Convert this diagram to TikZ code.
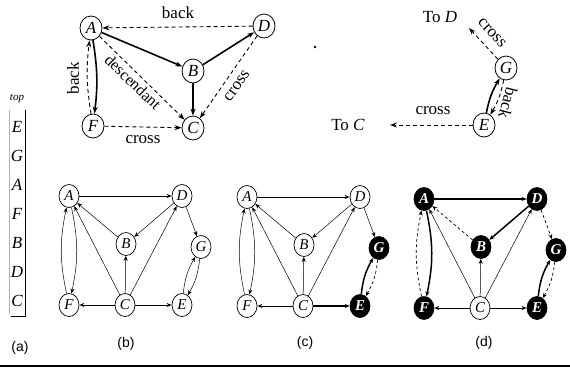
\documentclass[tikz,border=0pt]{standalone}
\usepackage{fontspec}
\setmainfont{Liberation Serif}
\setsansfont{Liberation Sans}
\usetikzlibrary{arrows.meta,shapes.geometric}
\tikzset{
 nd/.style={ellipse,draw,line width=0.8pt,inner sep=0pt,minimum width=22pt,minimum height=24pt,fill=white,font=\fontsize{17}{17}\selectfont\itshape},
 sn/.style={ellipse,draw,line width=0.7pt,inner sep=0pt,minimum width=20pt,minimum height=23pt,fill=white,font=\fontsize{15}{15}\selectfont\itshape},
 blk/.style={fill=black,text=white,font=\fontsize{15}{15}\selectfont\itshape\bfseries},
 lbl/.style={font=\fontsize{17}{17}\selectfont,inner sep=0pt},
 stk/.style={font=\fontsize{17}{17}\selectfont\itshape,inner sep=0pt},
 sub/.style={font=\fontsize{14}{14}\selectfont\sffamily,inner sep=0pt},
 arrw/.style={-{Stealth[length=7pt,width=5pt]}},
 sarrw/.style={-{Stealth[length=5pt,width=4pt]}},
 treeE/.style={arrw,line width=1.6pt},
 dshE/.style={arrw,line width=0.9pt,dash pattern=on 4pt off 3pt},
 thinE/.style={sarrw,line width=0.5pt},
 medE/.style={sarrw,line width=1pt},
 thkE/.style={sarrw,line width=1.5pt},
 sdshE/.style={sarrw,line width=0.7pt,dash pattern=on 3pt off 2.5pt},
 % graph (b)
 bnA/.style={},bnB/.style={},bnD/.style={},bnE/.style={},bnF/.style={},bnG/.style={},
 bAD/.style=medE,bDB/.style=thinE,bBA/.style=thinE,bAF/.style=thinE,bFA/.style=thinE,
 bDG/.style=thinE,bEG/.style=thinE,bGE/.style=thinE,bCE/.style=medE,bCF/.style=medE,
 % graph (c)
 cnA/.style={},cnB/.style={},cnD/.style={},cnE/.style=blk,cnF/.style={},cnG/.style=blk,
 cAD/.style=medE,cDB/.style=thinE,cBA/.style=thinE,cAF/.style=thinE,cFA/.style=thinE,
 cDG/.style=thinE,cEG/.style=thkE,cGE/.style=sdshE,cCE/.style=thkE,cCF/.style=medE,
 % graph (d)
 dnA/.style=blk,dnB/.style=blk,dnD/.style=blk,dnE/.style=blk,dnF/.style=blk,dnG/.style=blk,
 dAD/.style=thkE,dDB/.style=thkE,dBA/.style=sdshE,dAF/.style=thkE,dFA/.style=sdshE,
 dDG/.style=sdshE,dEG/.style=thkE,dGE/.style=sdshE,dCE/.style=medE,dCF/.style=medE,
}
\newcommand\bgraph[2]{%
\begin{scope}[shift={#2}]
\node[sn,#1nA] (#1A) at (0,0) {A};
\node[sn,#1nD] (#1D) at (113,0) {D};
\node[sn,#1nB] (#1B) at (57,48) {B};
\node[sn,#1nG] (#1G) at (132,51) {G};
\node[sn,#1nF] (#1F) at (0,109) {F};
\node[sn] (#1C) at (56,109) {C};
\node[sn,#1nE] (#1E) at (113,109) {E};
\draw[#1AD] (#1A) -- (#1D);
\draw[#1DB] (#1D) -- (#1B);
\draw[#1BA] (#1B) -- (#1A);
\draw[thinE] (#1C) -- (#1A);
\draw[thinE] (#1C) -- (#1B);
\draw[thinE] (#1C) -- (#1D);
\draw[#1CF] (#1C) -- (#1F);
\draw[#1CE] (#1C) -- (#1E);
\draw[#1AF] (#1A) to[bend left=12] (#1F);
\draw[#1FA] (#1F) to[bend left=12] (#1A);
\draw[#1DG] (#1D) -- (#1G);
\draw[#1EG] (#1E) to[bend left=12] (#1G);
\draw[#1GE] (#1G) to[bend left=12] (#1E);
\end{scope}}
\begin{document}
\begin{tikzpicture}[x=1pt,y=-1pt]
\useasboundingbox (0,0) rectangle (570,368);
% ---------- top graph ----------
\node[nd] (A) at (91,28) {A};
\node[nd] (D) at (264,26) {D};
\node[nd] (B) at (193,71) {B};
\node[nd] (F) at (93,126) {F};
\node[nd] (C) at (193,128) {C};
\draw[treeE] (A) -- (B);
\draw[treeE] (B) -- (D);
\draw[treeE] (B) -- (C);
\draw[treeE] (A) to[bend left=8] (F);
\draw[dshE] (F) to[bend left=8] (A);
\draw[dshE] (D) -- (A);
\draw[dshE] (A) -- (C);
\draw[dshE] (D) -- (C);
\draw[dshE] (F) -- (C);
\node[lbl] (l1) at (178,13) {back};
\node[lbl,rotate=90] (l2) at (73,78) {back};
\node[lbl,rotate=-44,font=\fontsize{16}{16}\selectfont] (l3) at (133,82) {descendant};
\node[lbl,rotate=55] (l4) at (237,86) {cross};
\node[lbl] (l5) at (143,140) {cross};
\fill (315,47) circle (1.3);
% ---------- top right ----------
\node[nd] (G2) at (506,68) {G};
\node[nd] (E2) at (484,125) {E};
\node[lbl] (toD) at (440,17) {To \textit{D}};
\node[lbl] (toC) at (348,125) {To \textit{C}};
\coordinate (dEnd) at (469,28);
\coordinate (cEnd) at (390,125);
\draw[treeE] (E2) to[bend left=10] (G2);
\draw[dshE] (G2) to[bend left=10] (E2);
\draw[dshE] (G2) -- (dEnd);
\draw[dshE] (E2) -- (cEnd);
\node[lbl,rotate=-48] (l6) at (492,33) {cross};
\node[lbl,rotate=-105] (l7) at (508,103) {back};
\node[lbl] (l8) at (433,111) {cross};
% ---------- stack (a) ----------
\node[font=\fontsize{11}{11}\selectfont\itshape] (top) at (17,99) {top};
\foreach \l [count=\i] in {E,G,A,F,B,D,C} \node[stk] (s\l) at (17,98+29*\i) {\l};
\draw[line width=0.7pt] (25,110) -- (25,316) -- (11,316);
\draw[line width=0.4pt,gray!60] (9,110) -- (9,314);
% ---------- bottom graphs ----------
\bgraph{b}{(69,196)}
\bgraph{c}{(247,197)}
\bgraph{d}{(424,199)}
% sublabels
\node[sub] (la) at (20,348) {(a)};
\node[sub] (lb) at (126,344) {(b)};
\node[sub] (lc) at (305,343) {(c)};
\node[sub] (ld) at (484,343) {(d)};
\draw[line width=1.6pt] (0,366) -- (570,366);
\end{tikzpicture}
\end{document}
